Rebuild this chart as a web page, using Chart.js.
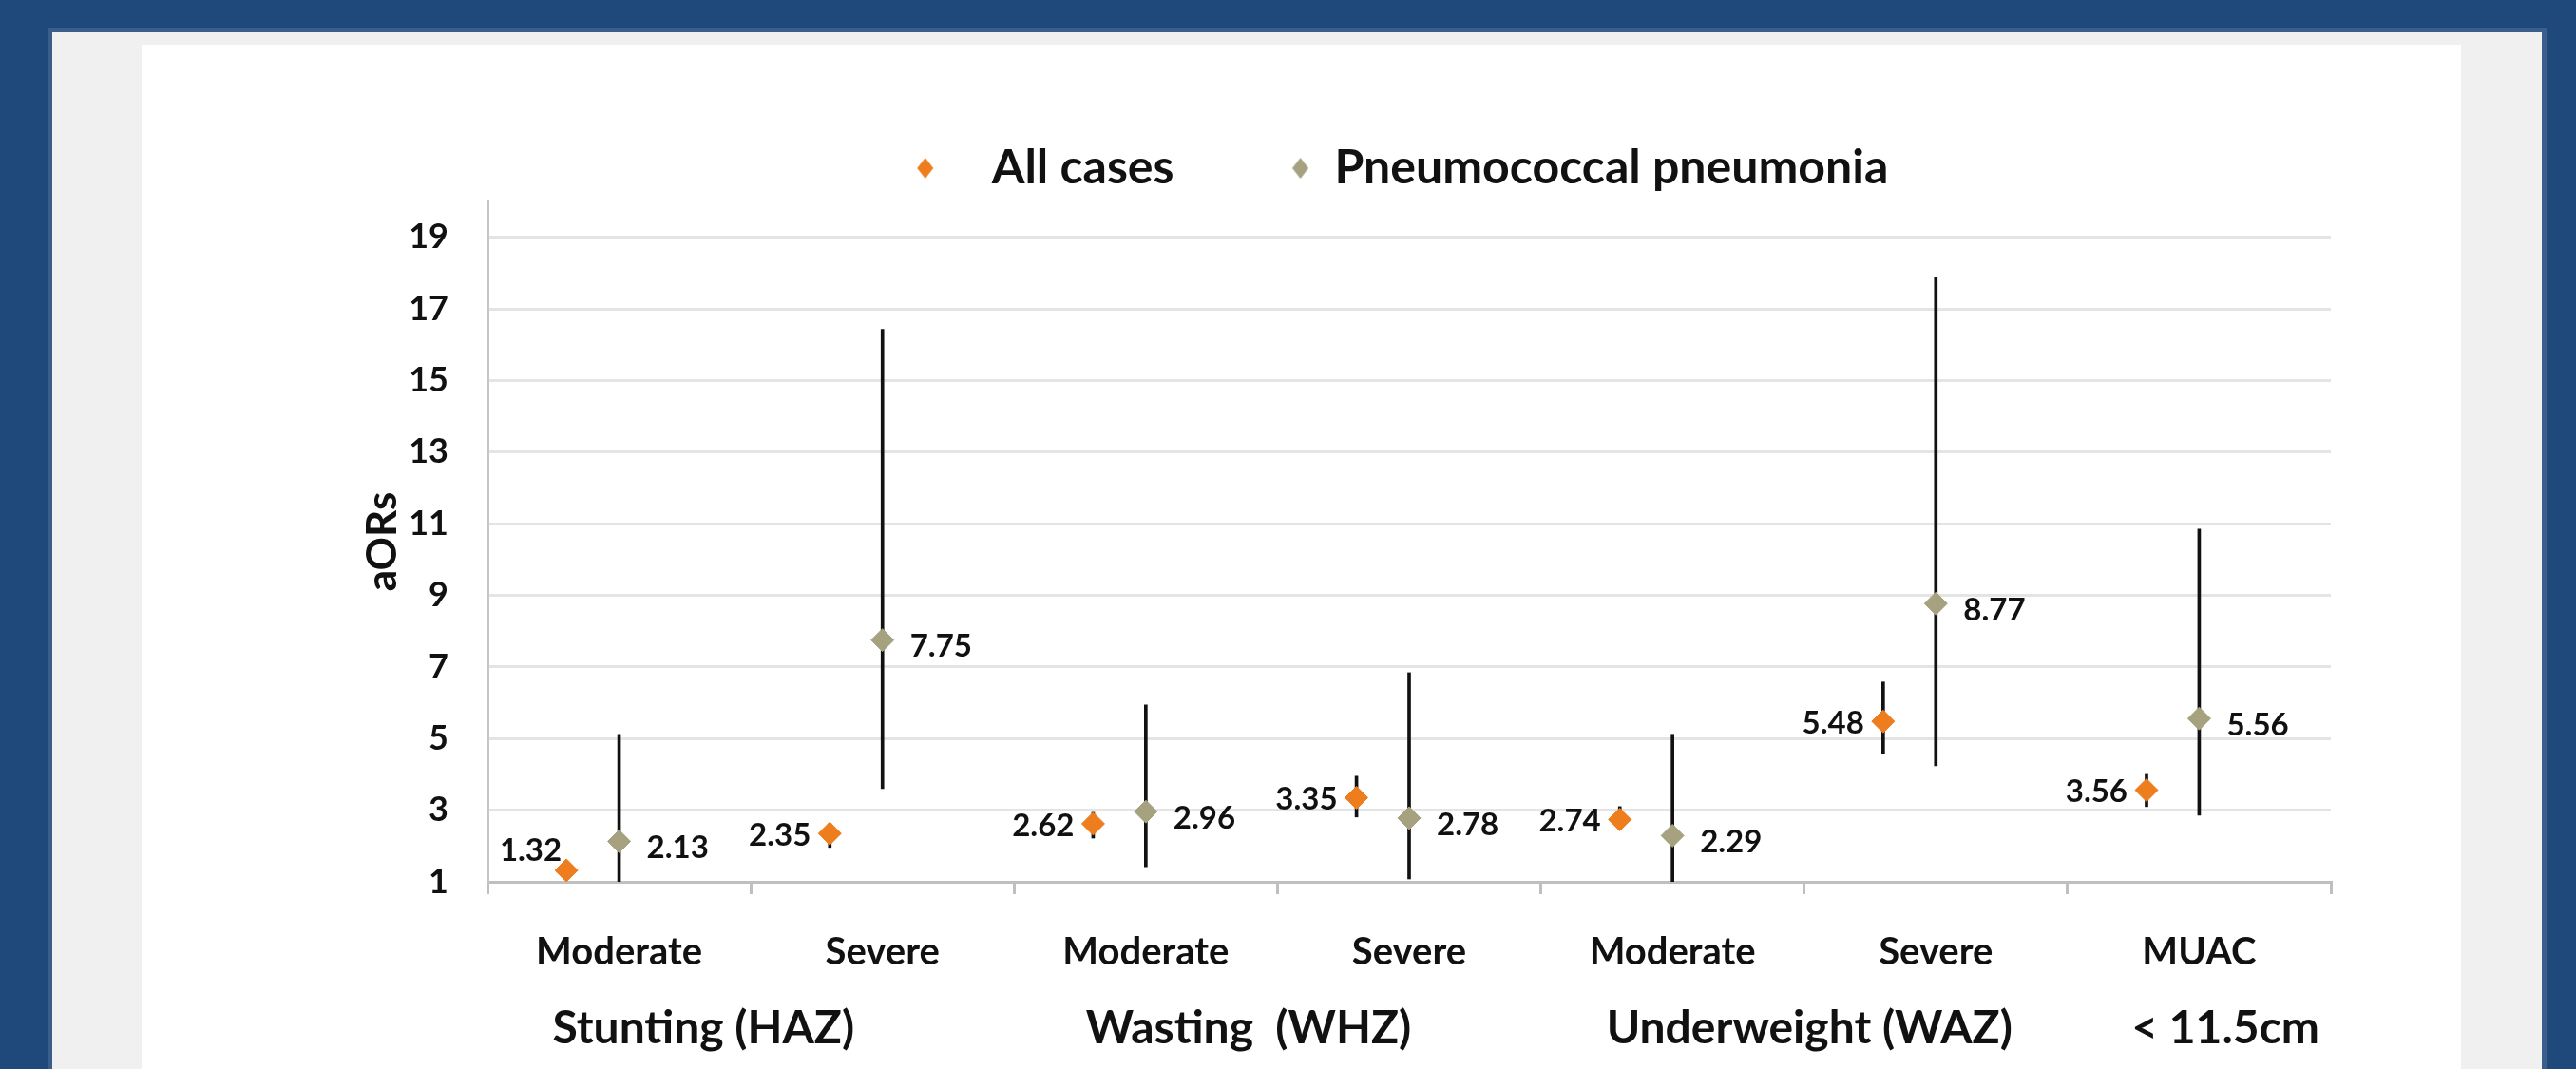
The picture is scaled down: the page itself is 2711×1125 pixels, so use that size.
<!DOCTYPE html>
<html>
<head>
<meta charset="utf-8">
<title>aORs by nutritional status</title>
<script src="https://cdn.jsdelivr.net/npm/chart.js@4.4.1/dist/chart.umd.min.js"></script>
<style>
  body { margin: 0; width: 2711px; height: 1125px; background: #1f497b; overflow: hidden; position: relative; }
  #rim { position: absolute; left: 50px; top: 29px; width: 2630px; height: 1096px; background: #3a5e8c; }
  #panel { position: absolute; left: 55px; top: 34px; width: 2620px; height: 1091px; background: #f0f0f0; }
  #card { position: absolute; left: 149px; top: 47px; width: 2441px; height: 1078px; background: #fff; }
  #wrap { position: absolute; left: 149px; top: 30px; width: 2441px; height: 1095px; }
</style>
</head>
<body>
<div id="rim"></div>
<div id="panel"></div>
<div id="card"></div>
<div id="wrap"><canvas id="orChart" width="2441" height="1095"></canvas></div>

<script>
// --- DATA ---
const categories = ['Moderate', 'Severe', 'Moderate', 'Severe', 'Moderate', 'Severe', 'MUAC'];
const groupNames = ['Stunting (HAZ)', 'Wasting  (WHZ)', 'Underweight (WAZ)', '< 11.5cm'];

// All cases: aOR and 95% CI
const allCases = [1.32, 2.35, 2.62, 3.35, 2.74, 5.48, 3.56];
const allLow   = [1.20, 1.96, 2.22, 2.81, 2.45, 4.59, 3.10];
const allHigh  = [1.45, 2.62, 2.94, 3.95, 3.10, 6.58, 4.00];

// Pneumococcal pneumonia: aOR and 95% CI
const pneumo     = [2.13, 7.75, 2.96, 2.78, 2.29, 8.77, 5.56];
const pneumoLow  = [1.00, 3.60, 1.42, 1.08, 1.00, 4.24, 2.86];
const pneumoHigh = [5.12, 16.43, 5.94, 6.84, 5.12, 17.87, 10.85];

const yTicks = [1, 3, 5, 7, 9, 11, 13, 15, 17, 19];

// --- LAYOUT / STYLE ---
const FONT = 'Lato';
const ORANGE = '#ee7d1d';
const GOLD = '#a6a17f';
const orangeShift = -0.2;                  // All-cases markers sit left of the category centre
const groupCenters = [0.82, 2.89, 5.02, 6.60]; // where the group captions sit, in category units
const labelNudge = { 0: [15, -23] };       // the 1.32 label sits above-left of its marker

// small diamond icons for the legend (the orange one is drawn further left of its text)
function diamondIcon(color, iconWidth, cx, w, h) {
    const c = document.createElement('canvas');
    c.width = iconWidth;
    c.height = h + 2;
    const g = c.getContext('2d');
    g.fillStyle = color;
    g.beginPath();
    g.moveTo(cx, 1);
    g.lineTo(cx + w / 2, 1 + h / 2);
    g.lineTo(cx, 1 + h);
    g.lineTo(cx - w / 2, 1 + h / 2);
    g.closePath();
    g.fill();
    return c;
}
const legendIcons = [diamondIcon(ORANGE, 100, 16, 17, 22), diamondIcon(GOLD, 22, 11, 17, 22)];

// value labels next to the markers
const valueLabels = {
    id: 'valueLabels',
    afterDatasetsDraw(chart) {
        const ctx = chart.ctx;
        ctx.save();
        ctx.font = `bold 33px ${FONT}`;
        ctx.fillStyle = '#111';
        ctx.textBaseline = 'middle';

        ctx.textAlign = 'right';
        chart.getDatasetMeta(0).data.forEach((pt, i) => {
            const n = labelNudge[i] || [0, 0];
            ctx.fillText(allCases[i].toFixed(2), pt.x - 20 + n[0], pt.y + 2 + n[1]);
        });

        ctx.textAlign = 'left';
        chart.getDatasetMeta(1).data.forEach((pt, i) => {
            ctx.fillText(pneumo[i].toFixed(2), pt.x + 29, pt.y + 7);
        });
        ctx.restore();
    }
};

const ctx = document.getElementById('orChart').getContext('2d');

new Chart(ctx, {
    type: 'line',
    data: {
        labels: categories,
        datasets: [
            {
                label: 'All cases',
                data: allCases.map((v, i) => ({ x: i + 0.5 + orangeShift, y: v })),
                xAxisID: 'xp',
                showLine: false,
                pointStyle: 'rectRot',
                pointRadius: 12,
                pointHoverRadius: 12,
                backgroundColor: ORANGE,
                borderColor: ORANGE,
                borderWidth: 1,
                order: 1
            },
            {
                label: 'Pneumococcal pneumonia',
                data: pneumo.map((v, i) => ({ x: i + 0.5, y: v })),
                xAxisID: 'xp',
                showLine: false,
                pointStyle: 'rectRot',
                pointRadius: 12,
                pointHoverRadius: 12,
                backgroundColor: GOLD,
                borderColor: GOLD,
                borderWidth: 1,
                order: 1
            },
            {
                // CI bars, all cases
                type: 'bar',
                label: 'ci-all',
                data: allCases.map((v, i) => ({ x: i + 0.5 + orangeShift, y: [allLow[i], allHigh[i]] })),
                xAxisID: 'xp',
                barThickness: 3,
                grouped: false,
                backgroundColor: '#111',
                order: 2
            },
            {
                // CI bars, pneumococcal pneumonia
                type: 'bar',
                label: 'ci-pneumo',
                data: pneumo.map((v, i) => ({ x: i + 0.5, y: [pneumoLow[i], pneumoHigh[i]] })),
                xAxisID: 'xp',
                barThickness: 3,
                grouped: false,
                backgroundColor: '#111',
                order: 2
            }
        ]
    },
    options: {
        responsive: false,
        animation: false,
        devicePixelRatio: 1,
        layout: { padding: { left: 277, right: 32, top: 0, bottom: 0 } },
        plugins: {
            tooltip: { enabled: false },
            legend: {
                position: 'top',
                labels: {
                    usePointStyle: true,
                    pointStyleWidth: 22,
                    padding: 122,
                    color: '#111',
                    font: { family: FONT, size: 50, weight: 'bold' },
                    generateLabels(chart) {
                        const items = Chart.defaults.plugins.legend.labels.generateLabels(chart)
                            .filter(it => it.datasetIndex < 2);
                        items.forEach(it => { it.pointStyle = legendIcons[it.datasetIndex]; });
                        return items;
                    }
                }
            }
        },
        scales: {
            // points and CI bars live on this hidden linear axis (0..7 = the 7 category slots)
            xp: {
                type: 'linear',
                display: false,
                offset: false,
                min: 0,
                max: 7
            },
            x: {
                type: 'category',
                position: 'bottom',
                offset: true,
                weight: 0,
                grid: {
                    offset: true,
                    drawOnChartArea: false,
                    tickLength: 13,
                    color: '#bfbfbf',
                    lineWidth: 3
                },
                border: { color: '#bfbfbf', width: 3 },
                ticks: {
                    color: '#111',
                    padding: 37,
                    maxRotation: 0,
                    autoSkip: false,
                    font: { family: FONT, size: 40, weight: 'bold' }
                },
                afterFit(scale) { scale.height = 86; }
            },
            xg: {
                type: 'linear',
                position: 'bottom',
                weight: 1,
                min: 0,
                max: 7,
                grid: { display: false, drawTicks: false },
                border: { display: false },
                ticks: {
                    color: '#111',
                    padding: 40,
                    maxRotation: 0,
                    autoSkip: false,
                    font: { family: FONT, size: 48, weight: 'bold' },
                    callback: (v, i) => groupNames[i]
                },
                afterBuildTicks(scale) { scale.ticks = groupCenters.map(v => ({ value: v })); },
                afterFit(scale) { scale.height = 111; }
            },
            y: {
                type: 'linear',
                position: 'left',
                min: 1,
                max: 20,
                grid: { color: '#e4e4e4', lineWidth: 3, drawTicks: false },
                border: { color: '#c6c6c6', width: 3 },
                ticks: {
                    color: '#111',
                    padding: 41,
                    font: { family: FONT, size: 36, weight: 'bold' }
                },
                title: {
                    display: true,
                    text: 'aORs',
                    color: '#111',
                    padding: { top: -50, bottom: 0 },
                    font: { family: FONT, size: 44, weight: 'bold' }
                },
                afterBuildTicks(scale) { scale.ticks = yTicks.map(v => ({ value: v })); },
                afterFit(scale) { scale.width = 87; }
            },
            // empty right-hand spacer so the plot ends where the reference's does
            yr: {
                type: 'linear',
                position: 'right',
                grid: { display: false, drawTicks: false },
                border: { display: false },
                ticks: { display: false },
                afterFit(scale) { scale.width = 105; }
            }
        }
    },
    plugins: [valueLabels]
});
</script>
</body>
</html>
